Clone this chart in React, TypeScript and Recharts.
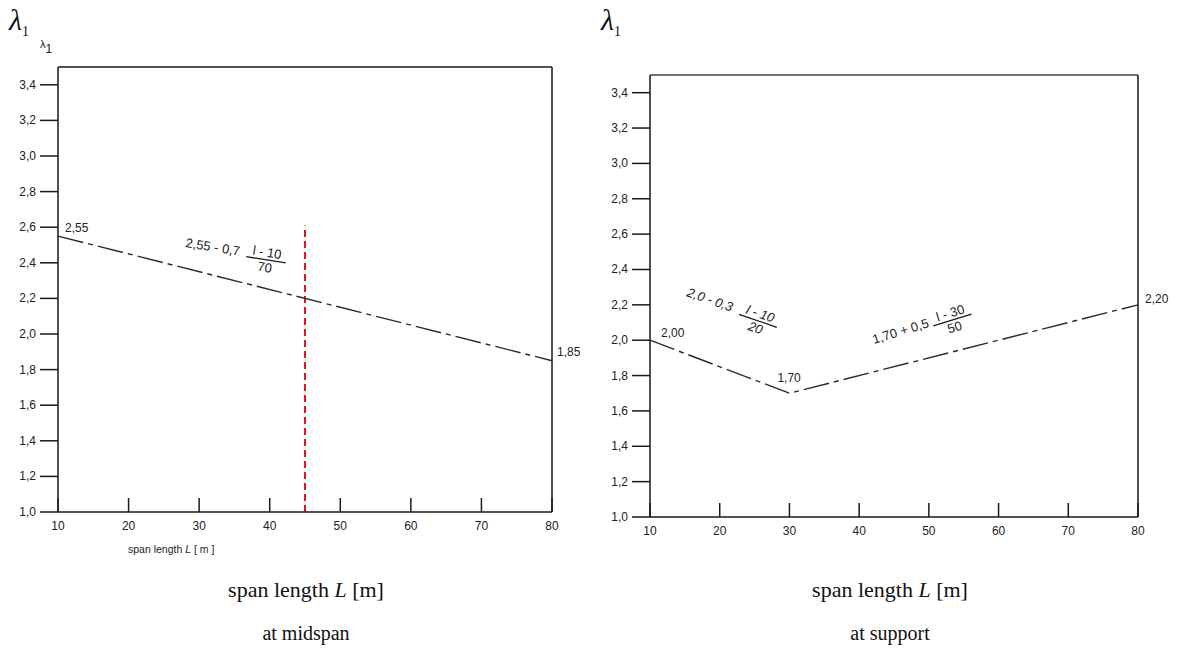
import React from 'react'
import { LineChart, Line, XAxis, YAxis, ReferenceLine, LabelList } from 'recharts'

// span length L [m]
const xTicks = [10, 20, 30, 40, 50, 60, 70, 80]
const yTicks = [1.0, 1.2, 1.4, 1.6, 1.8, 2.0, 2.2, 2.4, 2.6, 2.8, 3.0, 3.2, 3.4]
const yMax = 3.5

// at midspan
const midspanL = [10, 80]
const midspanLambda = [2.55, 1.85]
const midspanTags = ['2,55', '1,85']
const markerL = 45
const markerTop = 2.61

// at support
const supportL = [10, 30, 80]
const supportLambda = [2.0, 1.7, 2.2]
const supportTags = ['2,00', '1,70', '2,20']

const midspanData = midspanL.map((L, i) => ({ L, v: midspanLambda[i], tag: midspanTags[i] }))
const supportData = supportL.map((L, i) => ({ L, v: supportLambda[i], tag: supportTags[i] }))

const midspanTagOffsets = [{ dx: 7, dy: -4 }, { dx: 5, dy: -5 }]
const supportTagOffsets = [{ dx: 11, dy: -3 }, { dx: -12, dy: -11 }, { dx: 7, dy: -2 }]

const AXIS = '#1a1a1a'
const TXT = '#222'
const SANS = '"Liberation Sans", Arial, sans-serif'
const SERIF = '"Liberation Serif", "Times New Roman", serif'
const DASH = '26 5 5 5'

const fmt1 = (v: number) => v.toFixed(1).replace('.', ',')

function LeftTick(props: any) {
  const { x, y, payload } = props
  return (
    <g>
      <line x1={x - 18} x2={x} y1={y} y2={y} stroke={AXIS} strokeWidth={1.5} />
      <text x={x - 22} y={y} dy={4} textAnchor="end" fontSize={12} fontFamily={SANS} fill={TXT}>
        {fmt1(payload.value)}
      </text>
    </g>
  )
}

function RightTick(props: any) {
  const { x, y } = props
  return <line x1={x - 18} x2={x} y1={y} y2={y} stroke={AXIS} strokeWidth={1.5} />
}

function BottomTick(props: any) {
  const { x, y, payload } = props
  return (
    <g>
      <line x1={x} x2={x} y1={y} y2={y - 14} stroke={AXIS} strokeWidth={1.5} />
      <text x={x} y={y + 18} textAnchor="middle" fontSize={12} fontFamily={SANS} fill={TXT}>
        {payload.value}
      </text>
    </g>
  )
}

function tagRenderer(offsets: { dx: number; dy: number }[]) {
  return (p: any) => {
    const o = offsets[p.index] || { dx: 0, dy: 0 }
    return (
      <text x={p.x + o.dx} y={p.y + o.dy} fontSize={12} fontFamily={SANS} fill={TXT}>
        {p.value}
      </text>
    )
  }
}

// formula with a fraction, drawn rotated around its start point
function Formula({ x, y, angle, lead, num, den, italic }: any) {
  const style = italic ? 'italic' : 'normal'
  const leadW = lead.length * 5.9
  const barX = leadW + 3
  const barW = 40
  return (
    <g transform={`translate(${x},${y}) rotate(${angle})`} fontFamily={SANS} fontSize={13} fill={TXT} fontStyle={style}>
      <text x={0} y={0}>{lead}</text>
      <text x={barX + barW / 2} y={-3} textAnchor="middle">{num}</text>
      <line x1={barX} x2={barX + barW} y1={0} y2={0} stroke={AXIS} strokeWidth={1.3} />
      <text x={barX + barW / 2} y={12} textAnchor="middle">{den}</text>
    </g>
  )
}

function Lambda({ x, y }: { x: number; y: number }) {
  return (
    <text x={x} y={y} fontFamily={SERIF} fill="#111">
      <tspan fontSize={30} fontStyle="italic">λ</tspan>
      <tspan fontSize={14} dy={6}>1</tspan>
    </text>
  )
}

export default function App() {
  return (
    <div style={{ position: 'absolute', left: 0, top: 0, width: 1187, height: 649, background: '#fff' }}>
      <div style={{ position: 'absolute', left: 0, top: 0 }}>
        <LineChart width={600} height={560} data={midspanData} margin={{ top: 67, right: 48, left: 18, bottom: 18 }}>
          <XAxis
            dataKey="L"
            type="number"
            domain={[10, 80]}
            ticks={xTicks}
            height={30}
            tickSize={0}
            tickMargin={0}
            tickLine={false}
            tick={<BottomTick />}
            stroke={AXIS}
            strokeWidth={1.5}
          />
          <YAxis
            type="number"
            domain={[1.0, yMax]}
            ticks={yTicks}
            width={40}
            tickSize={0}
            tickMargin={0}
            tickLine={false}
            tick={<LeftTick />}
            stroke={AXIS}
            strokeWidth={1.5}
          />
          <ReferenceLine y={yMax} stroke={AXIS} strokeWidth={1.5} />
          <ReferenceLine x={80} stroke={AXIS} strokeWidth={1.5} />
          <ReferenceLine
            segment={[{ x: markerL, y: 1.0 }, { x: markerL, y: markerTop }]}
            stroke="#e5131b"
            strokeWidth={2}
            strokeDasharray="7 4"
          />
          <Line
            dataKey="v"
            stroke="#2a2a2a"
            strokeWidth={1.4}
            strokeDasharray={DASH}
            dot={false}
            isAnimationActive={false}
          >
            <LabelList dataKey="tag" content={tagRenderer(midspanTagOffsets)} />
          </Line>
        </LineChart>
      </div>

      <div style={{ position: 'absolute', left: 590, top: 0 }}>
        <LineChart width={597} height={560} data={supportData} margin={{ top: 75, right: 39, left: 20, bottom: 13 }}>
          <XAxis
            dataKey="L"
            type="number"
            domain={[10, 80]}
            ticks={xTicks}
            height={30}
            tickSize={0}
            tickMargin={0}
            tickLine={false}
            tick={<BottomTick />}
            stroke={AXIS}
            strokeWidth={1.5}
          />
          <YAxis
            type="number"
            domain={[1.0, yMax]}
            ticks={yTicks}
            width={40}
            tickSize={0}
            tickMargin={0}
            tickLine={false}
            tick={<LeftTick />}
            stroke={AXIS}
            strokeWidth={1.5}
          />
          <YAxis
            yAxisId="r"
            orientation="right"
            type="number"
            domain={[1.0, yMax]}
            ticks={yTicks}
            width={10}
            tickSize={0}
            tickMargin={0}
            tickLine={false}
            tick={<RightTick />}
            stroke={AXIS}
            strokeWidth={1.5}
          />
          <ReferenceLine y={yMax} stroke="#444" strokeWidth={1.5} />
          <Line
            dataKey="v"
            stroke="#2a2a2a"
            strokeWidth={1.4}
            strokeDasharray={DASH}
            dot={false}
            isAnimationActive={false}
          >
            <LabelList dataKey="tag" content={tagRenderer(supportTagOffsets)} />
          </Line>
        </LineChart>
      </div>

      <svg width={1187} height={649} style={{ position: 'absolute', left: 0, top: 0, pointerEvents: 'none' }}>
        <Lambda x={9} y={30} />
        <text x={40} y={48} fontFamily={SANS} fontSize={11} fill={TXT}>
          λ<tspan dy={5} fontSize={12}>1</tspan>
        </text>
        <Lambda x={601} y={30} />

        <Formula x={185} y={247} angle={9} lead="2,55 - 0,7" num="l - 10" den="70" />
        <Formula x={686} y={296} angle={19} lead="2,0 - 0,3" num="l - 10" den="20" italic />
        <Formula x={874} y={344} angle={-17} lead="1,70 + 0,5" num="l - 30" den="50" />

        <text x={128} y={553} fontFamily={SANS} fontSize={10.5} fill={TXT}>
          span length <tspan fontStyle="italic">L</tspan> [ m ]
        </text>

        <text x={306} y={597} textAnchor="middle" fontFamily={SERIF} fontSize={22} fill="#111">
          span length <tspan fontStyle="italic">L</tspan> [m]
        </text>
        <text x={306} y={640} textAnchor="middle" fontFamily={SERIF} fontSize={20} fill="#111">
          at midspan
        </text>
        <text x={890} y={597} textAnchor="middle" fontFamily={SERIF} fontSize={22} fill="#111">
          span length <tspan fontStyle="italic">L</tspan> [m]
        </text>
        <text x={890} y={640} textAnchor="middle" fontFamily={SERIF} fontSize={20} fill="#111">
          at support
        </text>
      </svg>
    </div>
  )
}
